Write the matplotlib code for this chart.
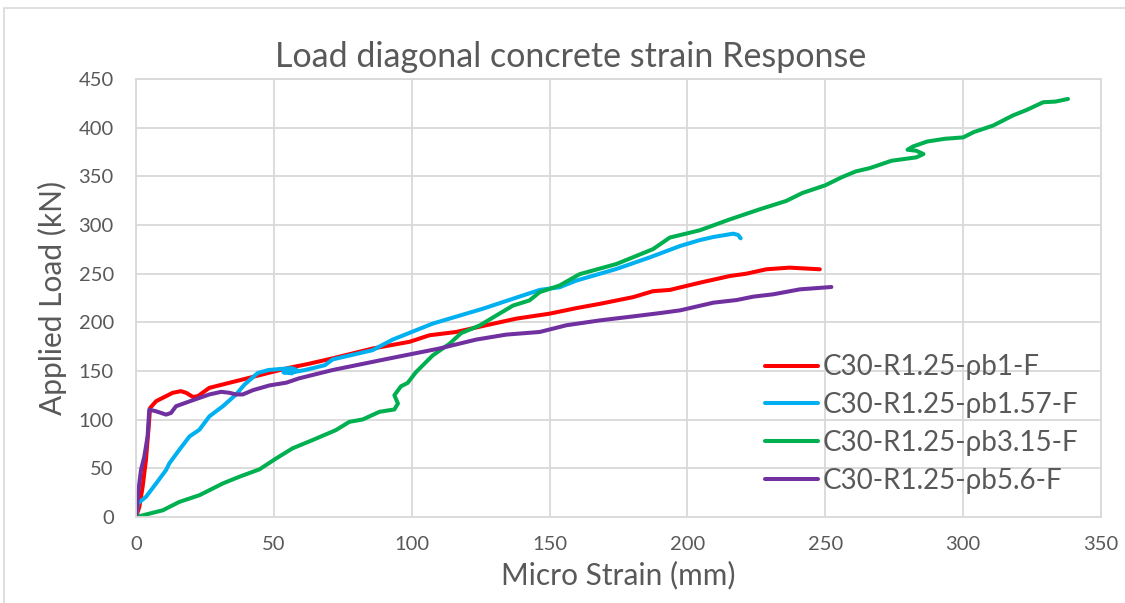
import numpy as np
import matplotlib.pyplot as plt
from matplotlib.patches import Rectangle

plt.rcParams['font.family'] = ['Lato', 'DejaVu Sans']

red_x = [0, 1.2, 2.4, 3.6, 4.6, 5.1, 7.3, 13.3, 16.3, 18.2, 20.6, 22.4, 26.6, 33.9, 41.2, 48.4,
         55.7, 62, 71.3, 85.8, 99.2, 106.4, 116.1, 127, 137.9, 150, 159.7, 168.2, 180.3, 187.5,
         193.6, 204.6, 215.4, 221.4, 228.6, 237, 248]
red_y = [0, 10.3, 31, 58.6, 93, 112, 119, 127.6, 129.3, 127.6, 123.4, 124.1, 132.7, 137.9, 143.1, 148.3,
         153.4, 157, 163, 173.1, 180, 186.7, 190.1, 197, 203.8, 208.9, 214.6, 219, 225.9, 232,
         233.3, 240.8, 247.6, 250, 254.5, 256.2, 254.5]

blue_x = [0, 0.6, 3.6, 7.3, 10.9, 12.1, 15.7, 19.4, 23, 26.6, 31.5, 36.3, 39.4, 44.2, 48, 52, 56.5,
          58.3, 56.5, 53.5, 55, 58, 61.3, 68.5, 71.3, 85.8, 93.1, 107.6, 125.8, 140.3, 146.4, 153.6,
          159.7, 174.2, 186.3, 197.3, 204.5, 209.4, 216.6, 218.4, 219.3]
blue_y = [0, 13.8, 20.7, 34.5, 48.3, 55.2, 69, 82.8, 89.7, 103.4, 113.8, 125.9, 136.2, 148, 151, 152,
          153, 151, 147.6, 148.5, 149.5, 149.3, 151, 156, 161.9, 171.4, 182.3, 198.7, 214, 227.6, 233.3,
          236, 242.9, 254.8, 266.7, 278.4, 284.5, 287.7, 291.1, 289.7, 286.3]

green_x = [0, 9.7, 15.7, 23, 31.5, 37.5, 44.8, 50.9, 56.8, 64, 72.5, 77.4, 82.2, 88.3, 93.7, 95,
           93.7, 96.1, 98.5, 101.6, 107.6, 113.7, 117.9, 124.6, 130.6, 136.7, 142.7, 146.4, 153.6,
           160.9, 174.2, 187.5, 193.6, 204.5, 215.4, 226.2, 235.8, 241.7, 250, 255.9, 261, 266.2,
           274, 283, 285.6, 283, 279.8, 281.8, 287, 293.4, 300, 303.8, 310.9, 318, 323.1, 329,
           333.5, 338]
green_y = [0, 6.9, 15.5, 22.4, 34.5, 41.4, 49, 60.3, 70.6, 79, 89.3, 97.8, 100.2, 108.1, 110.5, 116.6,
           125.1, 134.3, 137.7, 149, 166, 178, 188.9, 196.7, 206.9, 217.2, 222.5, 231, 237.8,
           249.5, 259.9, 275.2, 287.1, 294.6, 305.8, 316.1, 324.7, 332.9, 340.8, 349, 355, 358.5,
           366, 369.5, 372.9, 376.3, 377.3, 380.7, 385.8, 388.6, 390, 395.4, 402.2, 412.5, 418.3, 426.1,
           426.8, 429.5]

purple_x = [0, 0.6, 1.8, 3, 4.2, 4.8, 7.3, 10.9, 12.7, 14.5, 20.6, 26.6, 30.9, 33.9, 36.3, 38.7,
            42.4, 48.4, 54.5, 59.2, 71.3, 91.9, 110, 123.4, 134.3, 146.4, 156.1, 168.2, 180.3,
            190, 197.3, 209.4, 217.8, 223.9, 231.1, 240.8, 252.2]
purple_y = [0, 20.7, 48.3, 62, 82.8, 110.3, 108.6, 105.2, 106.9, 113.8, 120, 125.9, 128.6, 127.6,
            125.9, 125.9, 130.3, 135.2, 138, 142.5, 151, 162.9, 173.1, 182.3, 187.4, 190.1, 197,
            202, 206.1, 209.5, 212.3, 220.2, 222.9, 226.4, 228.8, 233.9, 236.3]

labels = ['C30-R1.25-ρb1-F', 'C30-R1.25-ρb1.57-F', 'C30-R1.25-ρb3.15-F', 'C30-R1.25-ρb5.6-F']
colors = ['#FF0000', '#00B0F0', '#00B050', '#7030A0']
txt = '#595959'
grid = '#D9D9D9'

fig = plt.figure(figsize=(11.25, 6.03), dpi=100)
fig.patches.append(Rectangle((0.0036, -0.2), 1.2, 1.1867, transform=fig.transFigure,
                             fill=False, edgecolor=grid, linewidth=1.2))
ax = fig.add_axes([0.1209, 0.1426, 0.8578, 0.7264])

series = [(red_x, red_y), (blue_x, blue_y), (green_x, green_y), (purple_x, purple_y)]
for (xs, ys), lab, c in zip(series, labels, colors):
    ax.plot(xs, ys, color=c, lw=2.9, label=lab, solid_capstyle='round', solid_joinstyle='round')

ax.set_xlim(0, 350)
ax.set_ylim(0, 450)
ax.set_xticks(np.arange(0, 351, 50))
ax.set_yticks(np.arange(0, 451, 50))
ax.grid(True, color=grid, lw=1.3)
ax.set_axisbelow(True)
for s in ax.spines.values():
    s.set_color(grid)
    s.set_linewidth(1.3)
ax.tick_params(length=0, labelsize=14.5, colors=txt)
ax.tick_params(axis='y', pad=16)
ax.tick_params(axis='x', pad=14)

ax.set_xlabel('Micro Strain (mm)', fontsize=21.5, color=txt, labelpad=5)
ax.set_ylabel('Applied Load (kN)', fontsize=21.5, color=txt, labelpad=8)
fig.text(0.507, 0.905, 'Load diagonal concrete strain Response', fontsize=24.5, color=txt,
         ha='center', va='center')

ax.legend(loc='upper left', bbox_to_anchor=(0.64, 0.397), frameon=False, fontsize=20,
          labelcolor=txt, handlelength=1.9, handletextpad=0.2, labelspacing=0.43,
          borderaxespad=0)

fig.savefig('out.png', dpi=100)
